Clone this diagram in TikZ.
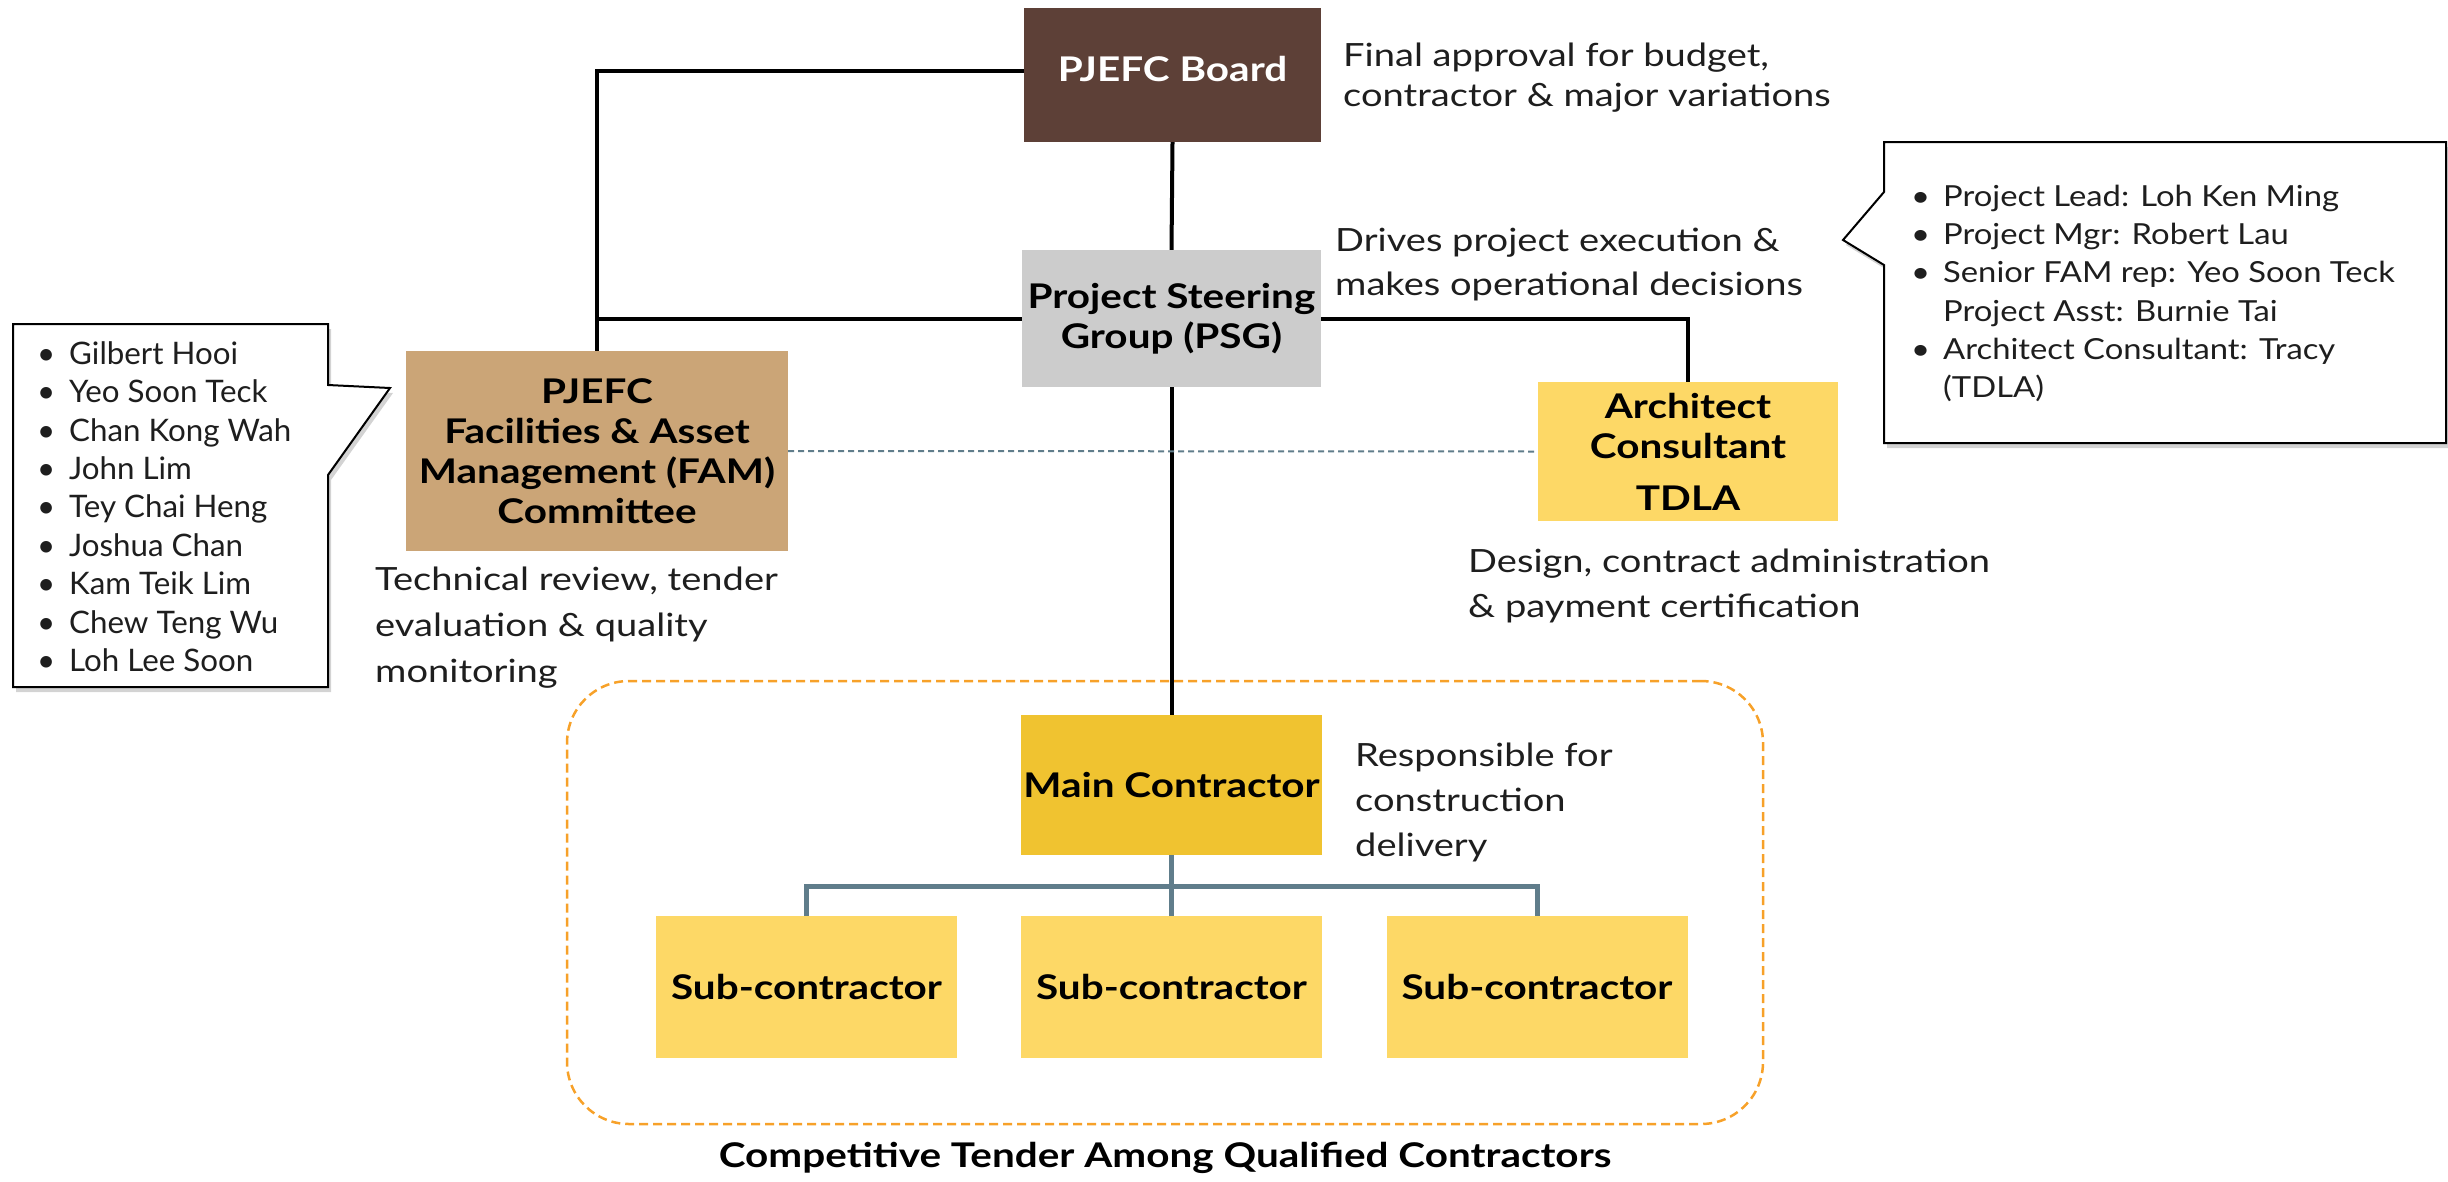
\documentclass[tikz,border=0pt]{standalone}
\usepackage{fontspec}
\setmainfont{Lato}
\newfontfamily\descf{Lato}[FakeStretch=1.19]
\newfontfamily\listRf{Lato}[FakeStretch=1.13]
\newfontfamily\listLf{Lato}[FakeStretch=1.01]
\usetikzlibrary{shadows}
\definecolor{boardc}{HTML}{5D4037}
\definecolor{psgc}{HTML}{CCCCCC}
\definecolor{famc}{HTML}{CBA577}
\definecolor{lightyel}{HTML}{FDD866}
\definecolor{goldc}{HTML}{F0C330}
\definecolor{treec}{HTML}{607D8B}
\definecolor{orangec}{HTML}{F7A129}
\definecolor{txt}{HTML}{1E1E1E}
\newcommand\bitem[1]{\makebox[32pt][l]{\textbullet}#1}
\newcommand\nitem[1]{\makebox[32pt][l]{}#1}
\begin{document}
\begin{tikzpicture}[x=1pt,y=-1pt,
  box/.style={rectangle, inner sep=0pt, align=center, text=black,
    font=\descf\fontsize{34}{40}\selectfont\bfseries},
  desc/.style={anchor=west, inner sep=0pt, align=left, text=txt},
  link/.style={line width=4pt, black},
  treeline/.style={line width=5pt, treec},
  callout/.style={draw=black, line width=2pt, fill=white,
    drop shadow={shadow xshift=3pt, shadow yshift=-5pt, opacity=0.35}},
]
\useasboundingbox (0,0) rectangle (2448,1181);

% tender container
\node[draw=orangec, line width=2.5pt, dash pattern=on 9pt off 5pt,
  rounded corners=62pt, minimum width=1196pt, minimum height=443pt]
  (tender) at (1165,902.5) {};
\node[font=\descf\fontsize{34}{38}\selectfont\bfseries, text=black] (caption) at (1165,1158)
  {Competitive Tender Among Qualified Contractors};

% boxes
\node[box, fill=boardc, text=white, minimum width=297pt, minimum height=134pt]
  (board) at (1172.5,75) {\raisebox{12pt}{PJEFC Board}};
\node[box, fill=psgc, minimum width=299pt, minimum height=137pt]
  (psg) at (1171.5,318.5) {Project Steering\\Group (PSG)};
\node[box, fill=famc, minimum width=382pt, minimum height=200pt]
  (fam) at (597,451) {PJEFC\\Facilities \& Asset\\Management (FAM)\\Committee};
\node[box, fill=lightyel, minimum width=300pt, minimum height=139pt]
  (arch) at (1688,451.5) {Architect\\Consultant\\[12pt]TDLA};
\node[box, fill=goldc, minimum width=301pt, minimum height=140pt]
  (mc) at (1171.5,785) {Main Contractor};
\node[box, fill=lightyel, minimum width=301pt, minimum height=142pt]
  (sub1) at (806.5,987) {Sub-contractor};
\node[box, fill=lightyel, minimum width=301pt, minimum height=142pt]
  (sub2) at (1171.5,987) {Sub-contractor};
\node[box, fill=lightyel, minimum width=301pt, minimum height=142pt]
  (sub3) at (1537,987) {Sub-contractor};

% connectors
\draw[link] ([yshift=4pt]board.west) -| (fam.north);
\draw[link] (psg.west) -- (psg.west -| fam.north);
\draw[link] (board.south) -- (psg.north);
\draw[link] (psg.east) -| (arch.north);
\draw[link] (psg.south) -- (mc.north);
\draw[treec, line width=2pt, dash pattern=on 6pt off 4pt] (fam.east) -- (arch.west);
\coordinate (bar) at (1171.5,886);
\draw[treeline] (mc.south) -- (bar);
\draw[treeline] (sub1.north) -- (sub1.north |- bar) -- (sub3.north |- bar) -- (sub3.north);
\draw[treeline] (sub2.north) -- (bar);

% descriptions
\node[desc, font=\descf\fontsize{32}{40}\selectfont] (boarddesc) at (1343,78)
  {Final approval for budget,\\contractor \& major variations};
\node[desc, font=\descf\fontsize{32}{44}\selectfont] (psgdesc) at (1335,265)
  {Drives project execution \&\\makes operational decisions};
\node[desc, font=\descf\fontsize{32}{46}\selectfont] (famdesc) at (375,628)
  {Technical review, tender\\evaluation \& quality\\monitoring};
\node[desc, font=\descf\fontsize{32}{45}\selectfont] (archdesc) at (1468,586)
  {Design, contract administration\\\& payment certification};
\node[desc, font=\descf\fontsize{32}{45}\selectfont] (mcdesc) at (1355,802)
  {Responsible for\\construction\\delivery};

% left callout
\draw[callout] (13,324) -- (328,324) -- (328,385) -- (390,388) -- (328,475)
  -- (328,687) -- (13,687) -- cycle;
\node[desc, font=\listLf\fontsize{31}{38.4}\selectfont] (famlist) at (37,506.5)
  {\bitem{Gilbert Hooi}\\\bitem{Yeo Soon Teck}\\\bitem{Chan Kong Wah}\\
   \bitem{John Lim}\\\bitem{Tey Chai Heng}\\\bitem{Joshua Chan}\\
   \bitem{Kam Teik Lim}\\\bitem{Chew Teng Wu}\\\bitem{Loh Lee Soon}};

% right callout
\draw[callout] (1884,142) -- (2446,142) -- (2446,443) -- (1884,443)
  -- (1884,265) -- (1843,240) -- (1884,192) -- cycle;
\node[desc, font=\listRf\fontsize{29}{38.2}\selectfont] (psglist) at (1911,293.5)
  {\bitem{Project Lead: Loh Ken Ming}\\\bitem{Project Mgr: Robert Lau}\\
   \bitem{Senior FAM rep: Yeo Soon Teck}\\\nitem{Project Asst: Burnie Tai}\\
   \bitem{Architect Consultant: Tracy}\\\nitem{(TDLA)}};
\end{tikzpicture}
\end{document}
